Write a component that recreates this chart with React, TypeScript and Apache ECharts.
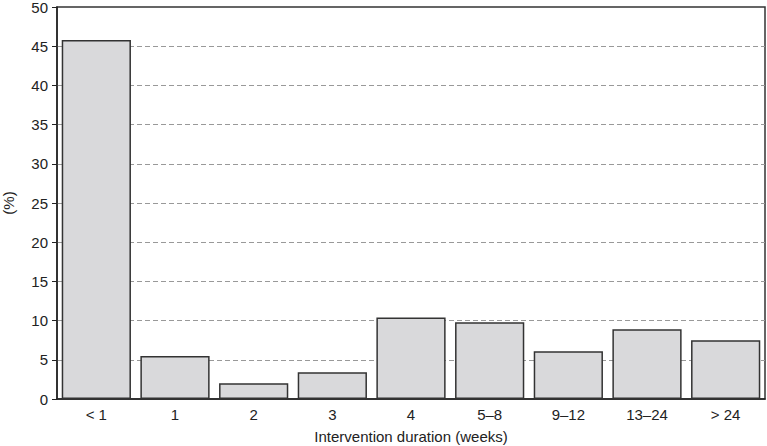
import React, { useEffect, useRef } from "react";
import * as echarts from "echarts";

const categories = ["< 1", "1", "2", "3", "4", "5–8", "9–12", "13–24", "> 24"];
const percentValues = [45.8, 5.5, 2.0, 3.4, 10.4, 9.8, 6.1, 8.9, 7.5];
const yTicks = [0, 5, 10, 15, 20, 25, 30, 35, 40, 45, 50];

export default function App() {
  const ref = useRef<HTMLDivElement>(null);
  useEffect(() => {
    if (!ref.current) return;
    const chart = echarts.init(ref.current, null, { renderer: "svg" });
    const font = "'Liberation Sans', Arial, sans-serif";
    chart.setOption({
      animation: false,
      grid: {
        left: 57,
        right: 2,
        top: 7,
        bottom: 47,
        containLabel: false,
        outerBoundsMode: "none",
        show: true,
        borderColor: "#333",
        borderWidth: 1.5,
        backgroundColor: "transparent",
      },
      xAxis: {
        type: "category",
        data: categories,
        name: "Intervention duration (weeks)",
        nameLocation: "middle",
        nameGap: 30,
        nameTextStyle: { fontFamily: font, fontSize: 15, color: "#222" },
        axisLine: { show: true, lineStyle: { color: "#222", width: 1.5 } },
        axisTick: { show: false },
        axisLabel: { fontFamily: font, fontSize: 15, color: "#222", margin: 8 },
      },
      yAxis: {
        type: "value",
        min: yTicks[0],
        max: yTicks[yTicks.length - 1],
        interval: 5,
        name: "(%)",
        nameLocation: "middle",
        nameGap: 41,
        nameTextStyle: { fontFamily: font, fontSize: 15, color: "#222" },
        axisLine: { show: true, lineStyle: { color: "#222", width: 1.5 } },
        axisTick: { show: true, length: 5, lineStyle: { color: "#222" } },
        axisLabel: { fontFamily: font, fontSize: 15, color: "#222", margin: 9 },
        splitLine: {
          show: true,
          lineStyle: { color: "#999", type: [5, 3], width: 1 },
          showMinLine: false,
          showMaxLine: false,
        },
      },
      series: [
        {
          type: "bar",
          data: percentValues,
          barCategoryGap: "12%",
          itemStyle: { color: "#d9d9db", borderColor: "#333", borderWidth: 1.5 },
        },
      ],
    });
    return () => chart.dispose();
  }, []);
  return <div ref={ref} style={{ width: 767, height: 446, position: "absolute", left: 0, top: 0 }} />;
}
